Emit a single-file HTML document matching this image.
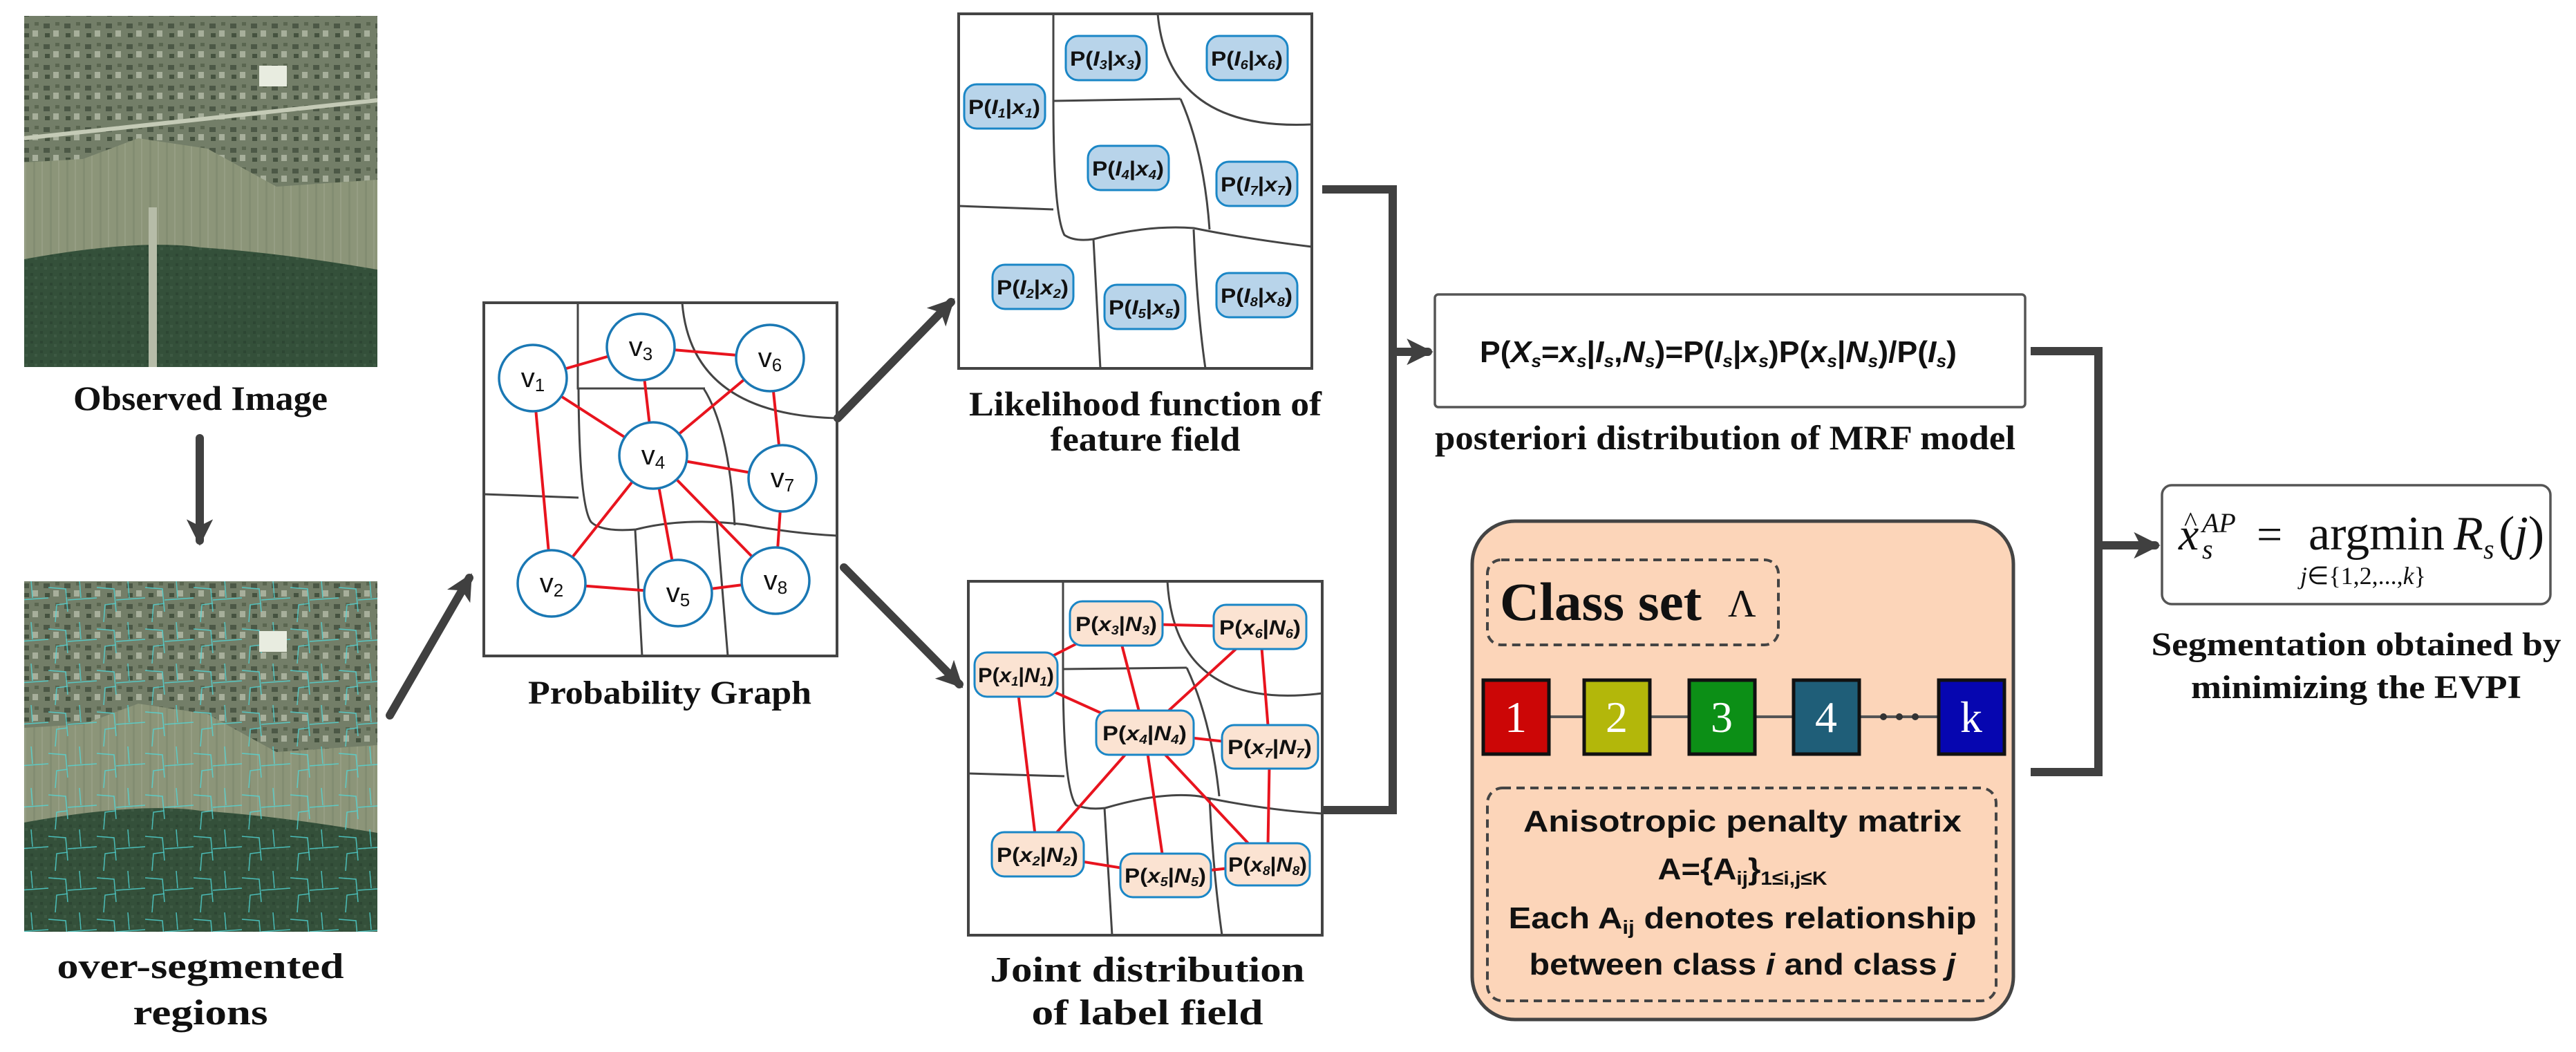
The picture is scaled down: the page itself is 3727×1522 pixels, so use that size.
<!DOCTYPE html>
<html><head><meta charset="utf-8"><style>
html,body{margin:0;padding:0;background:#fff;}
svg{display:block;}
.ser{font-family:"Liberation Serif",serif;font-weight:bold;fill:#111;}
.sans{font-family:"Liberation Sans",sans-serif;font-weight:bold;fill:#111;}
</style></head><body>
<svg width="3727" height="1522" viewBox="0 0 3727 1522" xmlns="http://www.w3.org/2000/svg">
<defs>
<marker id="ah" viewBox="0 0 10 10" refX="8" refY="5" markerWidth="3.2" markerHeight="3.2" orient="auto" markerUnits="strokeWidth">
<path d="M0,0 L10,5 L0,10 L2.5,5 z" fill="#404040"/></marker>
<pattern id="fld" width="24" height="24" patternUnits="userSpaceOnUse"><rect width="24" height="24" fill="#8c9579"/><rect x="0" width="3" height="24" fill="#838d72"/><rect x="12" width="2" height="24" fill="#969e84"/></pattern>
<pattern id="vil" width="30" height="30" patternUnits="userSpaceOnUse"><rect width="30" height="30" fill="#737e68"/><rect x="3" y="4" width="9" height="7" fill="#4c5846"/><rect x="17" y="14" width="8" height="9" fill="#a7af9b"/><rect x="5" y="18" width="7" height="6" fill="#45523f"/><rect x="20" y="2" width="6" height="5" fill="#5a6650"/></pattern>
<pattern id="for" width="14" height="14" patternUnits="userSpaceOnUse"><rect width="14" height="14" fill="#34503a"/><rect x="2" y="3" width="4" height="4" fill="#2d4633"/><rect x="8" y="8" width="4" height="4" fill="#3e5a44"/></pattern>
<pattern id="cyan" width="70" height="60" patternUnits="userSpaceOnUse"><path d="M0,10 L25,12 L28,45 M28,28 L70,25 M45,0 L47,25 M10,60 L12,35 L28,33" stroke="#50d8d8" stroke-width="1.5" fill="none"/></pattern>
</defs>

<g>
<rect x="35" y="23" width="511" height="508" fill="url(#fld)"/>
<path d="M35,23 H546 V260 L400,270 L300,215 L200,200 L120,230 L35,235 Z" fill="url(#vil)"/>
<path d="M35,375 Q200,345 290,358 Q400,365 546,390 V531 H35 Z" fill="url(#for)"/>
<rect x="215" y="300" width="12" height="231" fill="#b6bca8"/>
<rect x="375" y="95" width="40" height="30" fill="#e8ece0"/>
<path d="M35,200 L546,145" stroke="#c4cab6" stroke-width="6"/>
</g>
<g>
<rect x="35" y="841" width="511" height="507" fill="url(#fld)"/>
<path d="M35,841 H546 V1078 L400,1088 L300,1033 L200,1018 L120,1048 L35,1053 Z" fill="url(#vil)"/>
<path d="M35,1190 Q200,1160 290,1173 Q400,1180 546,1205 V1348 H35 Z" fill="url(#for)"/>
<rect x="35" y="841" width="511" height="507" fill="url(#cyan)" opacity="0.8"/>
<rect x="375" y="913" width="40" height="30" fill="#e8ece0"/>
</g>
<text class="ser" x="290" y="593" font-size="50" text-anchor="middle" textLength="368" lengthAdjust="spacingAndGlyphs">Observed Image</text>
<text class="ser" x="290" y="1415" font-size="52" text-anchor="middle" textLength="415" lengthAdjust="spacingAndGlyphs">over-segmented</text>
<text class="ser" x="290" y="1482" font-size="52" text-anchor="middle" textLength="195" lengthAdjust="spacingAndGlyphs">regions</text>

<g stroke="#404040" stroke-width="12" fill="none" stroke-linecap="round">
<line x1="289" y1="634" x2="289" y2="782" marker-end="url(#ah)"/>
<line x1="564" y1="1035" x2="679" y2="836" marker-end="url(#ah)"/>
<line x1="1212" y1="605" x2="1376" y2="437" marker-end="url(#ah)"/>
<line x1="1221" y1="821" x2="1388" y2="990" marker-end="url(#ah)"/>
<polyline points="1913,274 2015,274 2015,1172 1913,1172" stroke-linecap="butt"/>
<line x1="2015" y1="509" x2="2066" y2="509" marker-end="url(#ah)"/>
<polyline points="2938,508 3036,508 3036,1117 2938,1117" stroke-linecap="butt"/>
<line x1="3036" y1="789" x2="3118" y2="789" marker-end="url(#ah)"/>
</g>

<g fill="none" stroke="#444" stroke-width="3">
<rect x="700" y="438" width="511" height="511" stroke-width="4"/>
<path d="M836,438 V562 H1020"/>
<path d="M987,438 Q1000,600 1211,605"/>
<path d="M1018,562 Q1055,620 1063,760"/>
<path d="M700,715 L837,720"/>
<path d="M837,562 Q838,730 855,755 Q870,770 920,766 Q990,748 1078,759 Q1150,772 1211,775"/>
<path d="M919,767 L929,949"/>
<path d="M1037,755 Q1045,850 1053,949"/>
</g>
<g stroke="#e8141e" stroke-width="4">
<line x1="771" y1="547" x2="927" y2="502"/><line x1="927" y1="502" x2="1114" y2="518"/>
<line x1="771" y1="547" x2="945" y2="659"/><line x1="927" y1="502" x2="945" y2="659"/>
<line x1="1114" y1="518" x2="945" y2="659"/><line x1="1114" y1="518" x2="1132" y2="692"/>
<line x1="945" y1="659" x2="1132" y2="692"/><line x1="771" y1="547" x2="798" y2="844"/>
<line x1="945" y1="659" x2="798" y2="844"/><line x1="945" y1="659" x2="981" y2="858"/>
<line x1="945" y1="659" x2="1122" y2="840"/><line x1="1132" y1="692" x2="1122" y2="840"/>
<line x1="798" y1="844" x2="981" y2="858"/><line x1="981" y1="858" x2="1122" y2="840"/>
</g>
<g fill="#fff" stroke="#1a78b4" stroke-width="3.5">
<ellipse cx="771" cy="547" rx="49" ry="48"/><ellipse cx="927" cy="502" rx="49" ry="48"/>
<ellipse cx="1114" cy="518" rx="49" ry="48"/><ellipse cx="945" cy="659" rx="49" ry="48"/>
<ellipse cx="1132" cy="692" rx="49" ry="48"/><ellipse cx="798" cy="844" rx="49" ry="48"/>
<ellipse cx="981" cy="858" rx="49" ry="48"/><ellipse cx="1122" cy="840" rx="49" ry="48"/>
</g>
<g font-family="'Liberation Sans',sans-serif" font-size="40" fill="#111" text-anchor="middle">
<text x="771" y="560">v<tspan font-size="26" dy="6">1</tspan></text>
<text x="927" y="515">v<tspan font-size="26" dy="6">3</tspan></text>
<text x="1114" y="531">v<tspan font-size="26" dy="6">6</tspan></text>
<text x="945" y="672">v<tspan font-size="26" dy="6">4</tspan></text>
<text x="1132" y="705">v<tspan font-size="26" dy="6">7</tspan></text>
<text x="798" y="857">v<tspan font-size="26" dy="6">2</tspan></text>
<text x="981" y="871">v<tspan font-size="26" dy="6">5</tspan></text>
<text x="1122" y="853">v<tspan font-size="26" dy="6">8</tspan></text>
</g>
<text class="ser" x="969" y="1018" font-size="48" text-anchor="middle" textLength="410" lengthAdjust="spacingAndGlyphs">Probability Graph</text>

<g fill="none" stroke="#444" stroke-width="3">
<rect x="1387" y="20" width="511" height="513" stroke-width="4"/>
<path d="M1524,20 V146 L1708,143"/>
<path d="M1675,20 Q1690,190 1898,180"/>
<path d="M1708,143 Q1742,220 1750,332"/>
<path d="M1387,298 L1524,303"/>
<path d="M1524,146 Q1524,310 1540,340 Q1555,350 1582,346 Q1660,325 1727,330 Q1800,345 1898,357"/>
<path d="M1582,346 L1592,533"/>
<path d="M1727,332 Q1732,450 1744,533"/>
</g>
<g fill="#b8d4ea" stroke="#1a86c6" stroke-width="3">
<rect x="1542" y="52" width="117" height="64" rx="18"/>
<rect x="1746" y="52" width="117" height="64" rx="18"/>
<rect x="1395" y="122" width="117" height="64" rx="18"/>
<rect x="1574" y="211" width="117" height="64" rx="18"/>
<rect x="1760" y="234" width="117" height="64" rx="18"/>
<rect x="1436" y="383" width="117" height="64" rx="18"/>
<rect x="1598" y="412" width="117" height="64" rx="18"/>
<rect x="1760" y="395" width="117" height="64" rx="18"/>
</g>
<g class="sans" font-size="30" text-anchor="middle">
<text x="1600" y="95" textLength="104" lengthAdjust="spacingAndGlyphs">P(<tspan font-style="italic">I</tspan><tspan font-size="18" font-style="italic" dy="5">3</tspan><tspan dy="-5">|</tspan><tspan font-style="italic">x</tspan><tspan font-size="18" font-style="italic" dy="5">3</tspan><tspan dy="-5">)</tspan></text>
<text x="1804" y="95" textLength="104" lengthAdjust="spacingAndGlyphs">P(<tspan font-style="italic">I</tspan><tspan font-size="18" font-style="italic" dy="5">6</tspan><tspan dy="-5">|</tspan><tspan font-style="italic">x</tspan><tspan font-size="18" font-style="italic" dy="5">6</tspan><tspan dy="-5">)</tspan></text>
<text x="1453" y="165" textLength="104" lengthAdjust="spacingAndGlyphs">P(<tspan font-style="italic">I</tspan><tspan font-size="18" font-style="italic" dy="5">1</tspan><tspan dy="-5">|</tspan><tspan font-style="italic">x</tspan><tspan font-size="18" font-style="italic" dy="5">1</tspan><tspan dy="-5">)</tspan></text>
<text x="1632" y="254" textLength="104" lengthAdjust="spacingAndGlyphs">P(<tspan font-style="italic">I</tspan><tspan font-size="18" font-style="italic" dy="5">4</tspan><tspan dy="-5">|</tspan><tspan font-style="italic">x</tspan><tspan font-size="18" font-style="italic" dy="5">4</tspan><tspan dy="-5">)</tspan></text>
<text x="1818" y="277" textLength="104" lengthAdjust="spacingAndGlyphs">P(<tspan font-style="italic">I</tspan><tspan font-size="18" font-style="italic" dy="5">7</tspan><tspan dy="-5">|</tspan><tspan font-style="italic">x</tspan><tspan font-size="18" font-style="italic" dy="5">7</tspan><tspan dy="-5">)</tspan></text>
<text x="1494" y="426" textLength="104" lengthAdjust="spacingAndGlyphs">P(<tspan font-style="italic">I</tspan><tspan font-size="18" font-style="italic" dy="5">2</tspan><tspan dy="-5">|</tspan><tspan font-style="italic">x</tspan><tspan font-size="18" font-style="italic" dy="5">2</tspan><tspan dy="-5">)</tspan></text>
<text x="1656" y="455" textLength="104" lengthAdjust="spacingAndGlyphs">P(<tspan font-style="italic">I</tspan><tspan font-size="18" font-style="italic" dy="5">5</tspan><tspan dy="-5">|</tspan><tspan font-style="italic">x</tspan><tspan font-size="18" font-style="italic" dy="5">5</tspan><tspan dy="-5">)</tspan></text>
<text x="1818" y="438" textLength="104" lengthAdjust="spacingAndGlyphs">P(<tspan font-style="italic">I</tspan><tspan font-size="18" font-style="italic" dy="5">8</tspan><tspan dy="-5">|</tspan><tspan font-style="italic">x</tspan><tspan font-size="18" font-style="italic" dy="5">8</tspan><tspan dy="-5">)</tspan></text>
</g>
<text class="ser" x="1657" y="601" font-size="50" text-anchor="middle" textLength="510" lengthAdjust="spacingAndGlyphs">Likelihood function of</text>
<text class="ser" x="1657" y="652" font-size="50" text-anchor="middle" textLength="275" lengthAdjust="spacingAndGlyphs">feature field</text>

<g fill="none" stroke="#444" stroke-width="3">
<rect x="1401" y="841" width="512" height="512" stroke-width="4"/>
<path d="M1538,841 V968 L1717,966"/>
<path d="M1689,841 Q1700,1030 1913,1003"/>
<path d="M1717,966 Q1752,1040 1764,1152"/>
<path d="M1401,1119 L1540,1123"/>
<path d="M1538,968 Q1538,1140 1557,1165 Q1575,1172 1599,1169 Q1680,1145 1735,1152 Q1830,1172 1913,1177"/>
<path d="M1598,1169 L1609,1353"/>
<path d="M1750,1154 Q1755,1260 1768,1353"/>
</g>
<g stroke="#e8141e" stroke-width="4">
<line x1="1470" y1="976" x2="1615" y2="902"/><line x1="1615" y1="902" x2="1823" y2="907"/>
<line x1="1615" y1="902" x2="1656" y2="1060"/><line x1="1823" y1="907" x2="1656" y2="1060"/>
<line x1="1823" y1="907" x2="1837" y2="1080"/><line x1="1470" y1="976" x2="1656" y2="1060"/>
<line x1="1470" y1="976" x2="1501" y2="1236"/><line x1="1656" y1="1060" x2="1837" y2="1080"/>
<line x1="1656" y1="1060" x2="1501" y2="1236"/><line x1="1656" y1="1060" x2="1686" y2="1266"/>
<line x1="1656" y1="1060" x2="1834" y2="1250"/><line x1="1837" y1="1080" x2="1834" y2="1250"/>
<line x1="1501" y1="1236" x2="1686" y2="1266"/><line x1="1686" y1="1266" x2="1834" y2="1250"/>
</g>
<g fill="#fbe3d2" stroke="#1a86c6" stroke-width="3">
<rect x="1548" y="870" width="134" height="64" rx="18"/>
<rect x="1756" y="875" width="134" height="64" rx="18"/>
<rect x="1410" y="944" width="120" height="64" rx="18"/>
<rect x="1586" y="1028" width="141" height="64" rx="18"/>
<rect x="1768" y="1049" width="139" height="63" rx="18"/>
<rect x="1435" y="1204" width="133" height="64" rx="18"/>
<rect x="1621" y="1235" width="131" height="63" rx="18"/>
<rect x="1773" y="1220" width="122" height="61" rx="18"/>
</g>
<g class="sans" font-size="30" text-anchor="middle">
<text x="1615" y="913" textLength="118" lengthAdjust="spacingAndGlyphs">P(<tspan font-style="italic">x</tspan><tspan font-size="18" font-style="italic" dy="5">3</tspan><tspan dy="-5">|</tspan><tspan font-style="italic">N</tspan><tspan font-size="18" font-style="italic" dy="5">3</tspan><tspan dy="-5">)</tspan></text>
<text x="1823" y="918" textLength="118" lengthAdjust="spacingAndGlyphs">P(<tspan font-style="italic">x</tspan><tspan font-size="18" font-style="italic" dy="5">6</tspan><tspan dy="-5">|</tspan><tspan font-style="italic">N</tspan><tspan font-size="18" font-style="italic" dy="5">6</tspan><tspan dy="-5">)</tspan></text>
<text x="1470" y="987" textLength="110" lengthAdjust="spacingAndGlyphs">P(<tspan font-style="italic">x</tspan><tspan font-size="18" font-style="italic" dy="5">1</tspan><tspan dy="-5">|</tspan><tspan font-style="italic">N</tspan><tspan font-size="18" font-style="italic" dy="5">1</tspan><tspan dy="-5">)</tspan></text>
<text x="1656" y="1071" textLength="122" lengthAdjust="spacingAndGlyphs">P(<tspan font-style="italic">x</tspan><tspan font-size="18" font-style="italic" dy="5">4</tspan><tspan dy="-5">|</tspan><tspan font-style="italic">N</tspan><tspan font-size="18" font-style="italic" dy="5">4</tspan><tspan dy="-5">)</tspan></text>
<text x="1837" y="1091" textLength="122" lengthAdjust="spacingAndGlyphs">P(<tspan font-style="italic">x</tspan><tspan font-size="18" font-style="italic" dy="5">7</tspan><tspan dy="-5">|</tspan><tspan font-style="italic">N</tspan><tspan font-size="18" font-style="italic" dy="5">7</tspan><tspan dy="-5">)</tspan></text>
<text x="1501" y="1247" textLength="118" lengthAdjust="spacingAndGlyphs">P(<tspan font-style="italic">x</tspan><tspan font-size="18" font-style="italic" dy="5">2</tspan><tspan dy="-5">|</tspan><tspan font-style="italic">N</tspan><tspan font-size="18" font-style="italic" dy="5">2</tspan><tspan dy="-5">)</tspan></text>
<text x="1686" y="1277" textLength="118" lengthAdjust="spacingAndGlyphs">P(<tspan font-style="italic">x</tspan><tspan font-size="18" font-style="italic" dy="5">5</tspan><tspan dy="-5">|</tspan><tspan font-style="italic">N</tspan><tspan font-size="18" font-style="italic" dy="5">5</tspan><tspan dy="-5">)</tspan></text>
<text x="1834" y="1261" textLength="114" lengthAdjust="spacingAndGlyphs">P(<tspan font-style="italic">x</tspan><tspan font-size="18" font-style="italic" dy="5">8</tspan><tspan dy="-5">|</tspan><tspan font-style="italic">N</tspan><tspan font-size="18" font-style="italic" dy="5">8</tspan><tspan dy="-5">)</tspan></text>
</g>
<text class="ser" x="1660" y="1420" font-size="52" text-anchor="middle" textLength="455" lengthAdjust="spacingAndGlyphs">Joint distribution</text>
<text class="ser" x="1660" y="1482" font-size="52" text-anchor="middle" textLength="335" lengthAdjust="spacingAndGlyphs">of label field</text>

<rect x="2076" y="426" width="854" height="163" rx="5" fill="#fff" stroke="#555" stroke-width="3.5"/>
<text class="sans" x="2141" y="524" font-size="44" textLength="690" lengthAdjust="spacingAndGlyphs">P(<tspan font-style="italic">X</tspan><tspan font-size="26" font-style="italic" dy="7">s</tspan><tspan dy="-7">=</tspan><tspan font-style="italic">x</tspan><tspan font-size="26" font-style="italic" dy="7">s</tspan><tspan dy="-7">|</tspan><tspan font-style="italic">I</tspan><tspan font-size="26" font-style="italic" dy="7">s</tspan><tspan dy="-7">,</tspan><tspan font-style="italic">N</tspan><tspan font-size="26" font-style="italic" dy="7">s</tspan><tspan dy="-7">)=P(</tspan><tspan font-style="italic">I</tspan><tspan font-size="26" font-style="italic" dy="7">s</tspan><tspan dy="-7">|</tspan><tspan font-style="italic">x</tspan><tspan font-size="26" font-style="italic" dy="7">s</tspan><tspan dy="-7">)P(</tspan><tspan font-style="italic">x</tspan><tspan font-size="26" font-style="italic" dy="7">s</tspan><tspan dy="-7">|</tspan><tspan font-style="italic">N</tspan><tspan font-size="26" font-style="italic" dy="7">s</tspan><tspan dy="-7">)/P(</tspan><tspan font-style="italic">I</tspan><tspan font-size="26" font-style="italic" dy="7">s</tspan><tspan dy="-7">)</tspan></text>
<text class="ser" x="2076" y="650" font-size="50" textLength="840" lengthAdjust="spacingAndGlyphs">posteriori distribution of MRF model</text>

<rect x="2130" y="754" width="783" height="721" rx="62" fill="#fcd5b9" stroke="#444" stroke-width="5"/>
<rect x="2152" y="810" width="421" height="123" rx="20" fill="none" stroke="#444" stroke-width="4" stroke-dasharray="12,8"/>
<text class="ser" x="2170" y="897" font-size="78" textLength="292" lengthAdjust="spacingAndGlyphs">Class set</text>
<text x="2500" y="892" font-family="'Liberation Serif',serif" font-size="56" fill="#111">Λ</text>
<line x1="2241" y1="1037" x2="2805" y2="1037" stroke="#555" stroke-width="4"/>
<g stroke="#111" stroke-width="5">
<rect x="2146" y="984" width="95" height="107" fill="#cc0606"/>
<rect x="2292" y="984" width="95" height="107" fill="#b3b70a"/>
<rect x="2444" y="984" width="95" height="107" fill="#0c8f16"/>
<rect x="2595" y="984" width="95" height="107" fill="#1f5e78"/>
<rect x="2805" y="984" width="95" height="107" fill="#0606b0"/>
</g>
<g fill="#333"><circle cx="2725" cy="1037" r="5"/><circle cx="2748" cy="1037" r="5"/><circle cx="2771" cy="1037" r="5"/></g>
<g font-family="'Liberation Serif',serif" font-size="64" fill="#fff" text-anchor="middle">
<text x="2193" y="1059">1</text><text x="2339" y="1059">2</text><text x="2491" y="1059">3</text><text x="2642" y="1059">4</text><text x="2852" y="1059">k</text>
</g>
<rect x="2152" y="1140" width="736" height="308" rx="22" fill="none" stroke="#444" stroke-width="4" stroke-dasharray="12,8"/>
<g class="sans" font-size="44" text-anchor="middle">
<text x="2521" y="1203" textLength="634" lengthAdjust="spacingAndGlyphs">Anisotropic penalty matrix</text>
<text x="2521" y="1272" textLength="245" lengthAdjust="spacingAndGlyphs">A={A<tspan font-size="28" dy="8">ij</tspan><tspan dy="-8">}</tspan><tspan font-size="28" dy="8">1≤i,j≤K</tspan></text>
<text x="2521" y="1343" textLength="677" lengthAdjust="spacingAndGlyphs">Each A<tspan font-size="28" dy="8">ij</tspan><tspan dy="-8"> denotes relationship</tspan></text>
<text x="2521" y="1410" textLength="617" lengthAdjust="spacingAndGlyphs">between class <tspan font-style="italic">i</tspan> and class <tspan font-style="italic">j</tspan></text>
</g>

<rect x="3128" y="702" width="562" height="172" rx="14" fill="#fff" stroke="#555" stroke-width="3.5"/>
<g font-family="'Liberation Serif',serif" fill="#111">
<text x="3152" y="795" font-size="66" font-style="italic">x</text>
<text x="3160" y="768" font-size="40">^</text>
<text x="3186" y="770" font-size="40" font-style="italic">AP</text>
<text x="3186" y="808" font-size="40" font-style="italic">s</text>
<text x="3265" y="795" font-size="66">=</text>
<text x="3340" y="795" font-size="70">argmin</text>
<text x="3328" y="845" font-size="36"><tspan font-style="italic">j</tspan>∈{1,2,...,<tspan font-style="italic">k</tspan>}</text>
<text x="3550" y="795" font-size="70" font-style="italic">R</text>
<text x="3593" y="808" font-size="40" font-style="italic">s</text>
<text x="3615" y="795" font-size="70">(<tspan font-style="italic">j</tspan>)</text>
</g>
<text class="ser" x="3409" y="948" font-size="48" text-anchor="middle" textLength="593" lengthAdjust="spacingAndGlyphs">Segmentation obtained by</text>
<text class="ser" x="3409" y="1010" font-size="48" text-anchor="middle" textLength="478" lengthAdjust="spacingAndGlyphs">minimizing the EVPI</text>
</svg>
</body></html>
